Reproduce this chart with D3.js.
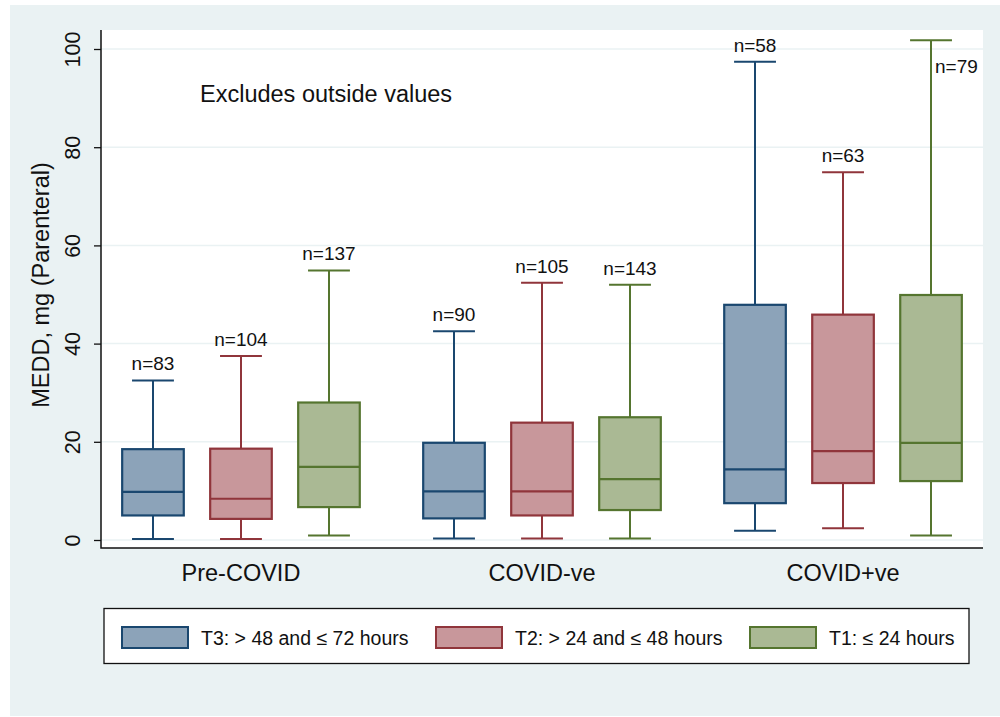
<!DOCTYPE html>
<html>
<head>
<meta charset="utf-8">
<script src="https://cdn.jsdelivr.net/npm/d3@7"></script>
<style>
  html, body { margin: 0; padding: 0; background: #ffffff; }
  svg { display: block; font-family: "Liberation Sans", Arial, sans-serif; }
</style>
</head>
<body>
<svg id="chart" width="1000" height="717"></svg>
<script>
// Admission groups on the x axis
const groups = ["Pre-COVID", "COVID-ve", "COVID+ve"];
// Time-window series (drawn left to right within each group)
const series = ["T3: > 48 and ≤ 72 hours", "T2: > 24 and ≤ 48 hours", "T1: ≤ 24 hours"];

// Box statistics, one row per group, one entry per series
const lowerWhisker = [[0.2, 0.2, 0.9], [0.3, 0.3, 0.3], [1.9, 2.4, 0.9]];
const quartile1    = [[5.0, 4.3, 6.7], [4.4, 5.0, 6.1], [7.5, 11.6, 12.0]];
const medians      = [[9.8, 8.4, 14.9], [9.9, 9.9, 12.4], [14.4, 18.1, 19.8]];
const quartile3    = [[18.5, 18.6, 28.0], [19.8, 23.9, 25.0], [47.9, 45.9, 49.9]];
const upperWhisker = [[32.5, 37.5, 54.9], [42.5, 52.4, 52.0], [97.4, 74.9, 101.8]];
const counts       = [[83, 104, 137], [90, 105, 143], [58, 63, 79]];

const yTicks = [0, 20, 40, 60, 80, 100];

const strokeColors = ["#1a476f", "#90353b", "#55752f"];
const fillColors   = ["#8ca3b9", "#c8979b", "#aab994"];

const svg = d3.select("#chart");

// Outer graph region
svg.append("rect").attr("x", 10).attr("y", 5).attr("width", 990).attr("height", 711)
  .attr("fill", "#eaf2f3");

const plot = { left: 101, right: 983, top: 30, bottom: 548 };

// Plot region
svg.append("rect")
  .attr("x", plot.left).attr("y", plot.top)
  .attr("width", plot.right - plot.left).attr("height", plot.bottom - plot.top)
  .attr("fill", "#ffffff");

const y = d3.scaleLinear().domain([0, 100]).range([540, 49]);

const x = d3.scalePoint().domain(groups)
  .range([plot.left, plot.right]).padding(0.465);

const xInner = d3.scaleBand().domain(series)
  .range([-132, 132]).paddingInner(0.3).paddingOuter(0.15);

const color = d3.scaleOrdinal().domain(series).range(strokeColors);
const fill = d3.scaleOrdinal().domain(series).range(fillColors);

// Grid lines
svg.append("g").selectAll("line").data(yTicks).join("line")
  .attr("x1", plot.left).attr("x2", plot.right)
  .attr("y1", d => y(d)).attr("y2", d => y(d))
  .attr("stroke", "#eaf2f3").attr("stroke-width", 1.5);

// Annotation
svg.append("text").attr("x", 200).attr("y", 102)
  .attr("font-size", 23.5).attr("fill", "#111")
  .text("Excludes outside values");

// Boxes
const boxData = [];
groups.forEach((g, gi) => {
  series.forEach((s, si) => {
    boxData.push({
      group: g, series: s,
      lo: lowerWhisker[gi][si], q1: quartile1[gi][si], med: medians[gi][si],
      q3: quartile3[gi][si], hi: upperWhisker[gi][si], n: counts[gi][si]
    });
  });
});

const bw = xInner.bandwidth();
const capW = bw * 0.68;

const boxes = svg.append("g").selectAll("g").data(boxData).join("g")
  .attr("transform", d => `translate(${x(d.group) + xInner(d.series) + bw / 2},0)`);

// whiskers
boxes.append("line")
  .attr("x1", 0).attr("x2", 0)
  .attr("y1", d => y(d.hi)).attr("y2", d => y(d.q3))
  .attr("stroke", d => color(d.series)).attr("stroke-width", 2);
boxes.append("line")
  .attr("x1", 0).attr("x2", 0)
  .attr("y1", d => y(d.q1)).attr("y2", d => y(d.lo))
  .attr("stroke", d => color(d.series)).attr("stroke-width", 2);
// caps
boxes.append("line")
  .attr("x1", -capW / 2).attr("x2", capW / 2)
  .attr("y1", d => y(d.hi)).attr("y2", d => y(d.hi))
  .attr("stroke", d => color(d.series)).attr("stroke-width", 2);
boxes.append("line")
  .attr("x1", -capW / 2).attr("x2", capW / 2)
  .attr("y1", d => y(d.lo)).attr("y2", d => y(d.lo))
  .attr("stroke", d => color(d.series)).attr("stroke-width", 2);
// box
boxes.append("rect")
  .attr("x", -bw / 2).attr("width", bw)
  .attr("y", d => y(d.q3)).attr("height", d => y(d.q1) - y(d.q3))
  .attr("fill", d => fill(d.series))
  .attr("stroke", d => color(d.series)).attr("stroke-width", 2.2);
// median
boxes.append("line")
  .attr("x1", -bw / 2).attr("x2", bw / 2)
  .attr("y1", d => y(d.med)).attr("y2", d => y(d.med))
  .attr("stroke", d => color(d.series)).attr("stroke-width", 2.2);

// sample size labels
boxes.append("text")
  .each(function (d) {
    const t = d3.select(this);
    const top = y(d.hi);
    if (top - 24 < plot.top) {
      t.attr("x", 4).attr("y", top + 33).attr("text-anchor", "start");
    } else {
      t.attr("x", 0).attr("y", top - 10).attr("text-anchor", "middle");
    }
  })
  .attr("font-size", 19).attr("fill", "#111")
  .text(d => `n=${d.n}`);

// Y axis
const yAxis = svg.append("g")
  .attr("transform", `translate(${plot.left},0)`)
  .call(d3.axisLeft(y).tickValues(yTicks).tickSize(7).tickSizeOuter(0));
yAxis.select(".domain").remove();
yAxis.selectAll(".tick line").attr("stroke", "#111").attr("stroke-width", 1.3);
yAxis.selectAll(".tick text")
  .attr("transform", "rotate(-90)")
  .attr("x", 0).attr("y", -21).attr("dy", null)
  .attr("text-anchor", "middle")
  .attr("font-size", 21.5).attr("fill", "#111")
  .attr("font-family", "Liberation Sans, Arial, sans-serif");

// Axis lines
svg.append("path")
  .attr("d", `M${plot.left},${plot.top}V${plot.bottom}H${plot.right}`)
  .attr("fill", "none").attr("stroke", "#111").attr("stroke-width", 1.5);

// Y title
svg.append("text")
  .attr("transform", "translate(49,285) rotate(-90)")
  .attr("text-anchor", "middle").attr("font-size", 23.5).attr("fill", "#111")
  .text("MEDD, mg (Parenteral)");

// X category labels
svg.append("g").selectAll("text").data(groups).join("text")
  .attr("x", d => x(d)).attr("y", 581)
  .attr("text-anchor", "middle").attr("font-size", 23.5).attr("fill", "#111")
  .text(d => d);

// Legend
const legend = svg.append("g");
legend.append("rect").attr("x", 104).attr("y", 608.5).attr("width", 865).attr("height", 55)
  .attr("fill", "#ffffff").attr("stroke", "#111").attr("stroke-width", 1.3);
const legendX = d3.scaleOrdinal().domain(series).range([122, 436, 750]);
const items = legend.selectAll("g.item").data(series).join("g").attr("class", "item")
  .attr("transform", d => `translate(${legendX(d)},0)`);
items.append("rect").attr("x", 0).attr("y", 627).attr("width", 66).attr("height", 21)
  .attr("fill", d => fill(d)).attr("stroke", d => color(d)).attr("stroke-width", 2);
items.append("text").attr("x", 79).attr("y", 645)
  .attr("font-size", 19.5).attr("fill", "#111")
  .text(d => d);
</script>
</body>
</html>
